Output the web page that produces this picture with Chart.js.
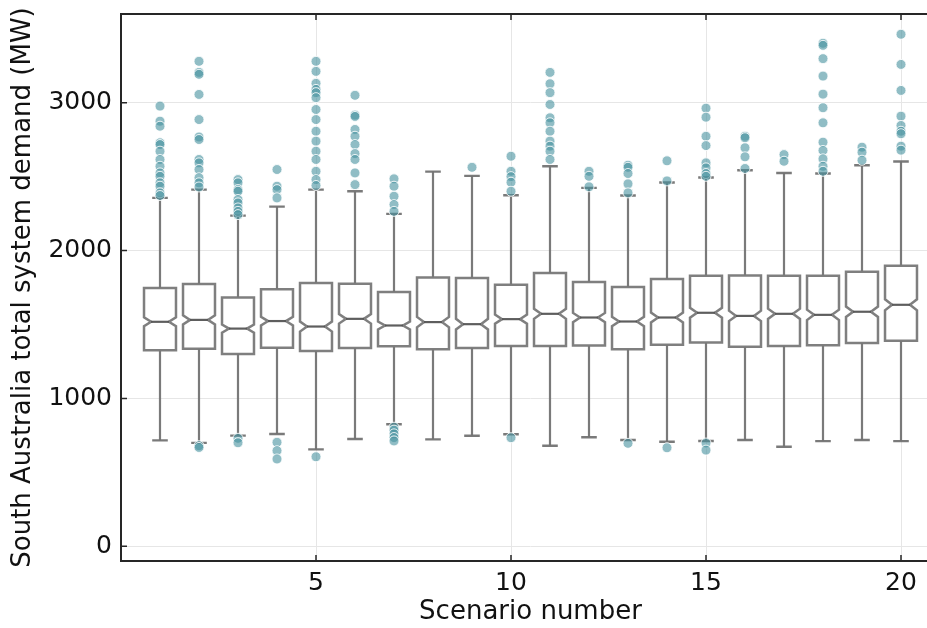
<!DOCTYPE html>
<html>
<head>
<meta charset="utf-8">
<script src="https://cdn.jsdelivr.net/npm/chart.js@4/dist/chart.umd.min.js"></script>
<style>
  html, body { margin: 0; padding: 0; overflow: hidden; background: #fff; }
  #wrap { width: 927px; height: 628px; overflow: hidden; }
  canvas { display: block; }
</style>
</head>
<body>
<div id="wrap"><canvas id="c" width="950" height="628"></canvas></div>
<script>
// ---- Data ----
const scenarios = [1, 2, 3, 4, 5, 6, 7, 8, 9, 10, 11, 12, 13, 14, 15, 16, 17, 18, 19, 20];
const q1 = [1326, 1335, 1301, 1342, 1321, 1340, 1353, 1333, 1340, 1355, 1355, 1357, 1333, 1362, 1378, 1350, 1355, 1360, 1374, 1389];
const medians = [1518, 1531, 1472, 1523, 1486, 1538, 1493, 1516, 1502, 1536, 1572, 1547, 1520, 1547, 1579, 1558, 1572, 1565, 1586, 1633];
const q3 = [1746, 1773, 1682, 1739, 1780, 1775, 1719, 1818, 1814, 1769, 1848, 1787, 1753, 1808, 1830, 1832, 1830, 1830, 1857, 1897];
const whiskerLow = [716, 699, 748, 759, 655, 725, 825, 723, 747, 757, 680, 737, 718, 707, 712, 718, 673, 711, 718, 711];
const whiskerHigh = [2356, 2412, 2236, 2297, 2412, 2401, 2248, 2534, 2505, 2374, 2570, 2424, 2372, 2460, 2494, 2543, 2525, 2521, 2577, 2602];
const notchHalf = [30, 31, 28, 29, 34, 32, 27, 35, 36, 31, 34, 31, 31, 33, 33, 35, 35, 35, 35, 37];
const outliers = [
  [2977, 2875, 2841, 2729, 2717, 2672, 2616, 2570, 2525, 2502, 2458, 2435, 2390, 2372],
  [3280, 3205, 3192, 3056, 2886, 2768, 2751, 2616, 2593, 2548, 2492, 2458, 2430, 680, 668],
  [2480, 2458, 2412, 2401, 2345, 2322, 2288, 2265, 2243, 730, 700],
  [2548, 2435, 2412, 2356, 703, 646, 590],
  [3280, 3212, 3131, 3090, 3068, 3034, 2954, 2886, 2807, 2740, 2672, 2616, 2536, 2480, 2440, 605],
  [3050, 2916, 2907, 2819, 2773, 2717, 2656, 2616, 2525, 2446],
  [2485, 2435, 2367, 2311, 2265, 805, 785, 760, 735, 712],
  [],
  [2563],
  [2638, 2536, 2500, 2462, 2401, 734],
  [3205, 3128, 3068, 2988, 2898, 2864, 2807, 2740, 2706, 2672, 2616],
  [2536, 2502, 2431],
  [2577, 2563, 2521, 2451, 2390, 696],
  [2607, 2471, 666],
  [2963, 2902, 2773, 2710, 2593, 2559, 2521, 2502, 698, 650],
  [2773, 2763, 2695, 2634, 2555],
  [2649, 2604],
  [3402, 3388, 3298, 3180, 3058, 2966, 2864, 2733, 2677, 2620, 2570, 2536],
  [2699, 2665, 2611],
  [3463, 3259, 3083, 2909, 2846, 2807, 2790, 2706, 2679]
];
const xTickValues = [5, 10, 15, 20];
const yTickValues = [0, 1000, 2000, 3000];

// ---- Style constants ----
const BOX_HALF = 0.41;    // half box width, x units
const CAP_HALF = 0.2;     // half cap width, x units
const NOTCH_INSET = 0.22; // fraction of box width
const FONT = 'DejaVu Sans';

const outlierPoints = [];
scenarios.forEach((s, i) => outliers[i].forEach(v => outlierPoints.push({ x: s, y: v })));

const boxPlugin = {
  id: 'boxes',
  beforeDatasetsDraw(chart) {
    const { ctx, scales: { x, y } } = chart;
    ctx.save();
    ctx.lineJoin = 'miter';
    scenarios.forEach((s, i) => {
      const cx = x.getPixelForValue(s);
      const hw = x.getPixelForValue(s + BOX_HALF) - cx;
      const chw = x.getPixelForValue(s + CAP_HALF) - cx;
      const xl = cx - hw, xr = cx + hw;
      const inset = 2 * hw * NOTCH_INSET;
      const yq1 = y.getPixelForValue(q1[i]);
      const yq3 = y.getPixelForValue(q3[i]);
      const ym = y.getPixelForValue(medians[i]);
      const ynl = y.getPixelForValue(medians[i] - notchHalf[i]);
      const ynh = y.getPixelForValue(medians[i] + notchHalf[i]);
      const ywl = y.getPixelForValue(whiskerLow[i]);
      const ywh = y.getPixelForValue(whiskerHigh[i]);
      ctx.strokeStyle = 'rgba(115,115,115,0.95)';
      ctx.lineWidth = 2.2;
      ctx.beginPath();
      ctx.moveTo(cx, yq3); ctx.lineTo(cx, ywh);
      ctx.moveTo(cx, yq1); ctx.lineTo(cx, ywl);
      ctx.stroke();
      ctx.lineWidth = 2.4;
      ctx.beginPath();
      ctx.moveTo(cx - chw, ywh); ctx.lineTo(cx + chw, ywh);
      ctx.moveTo(cx - chw, ywl); ctx.lineTo(cx + chw, ywl);
      ctx.stroke();
      ctx.beginPath();
      ctx.moveTo(xl, yq1);
      ctx.lineTo(xr, yq1);
      ctx.lineTo(xr, ynl);
      ctx.lineTo(xr - inset, ym);
      ctx.lineTo(xr, ynh);
      ctx.lineTo(xr, yq3);
      ctx.lineTo(xl, yq3);
      ctx.lineTo(xl, ynh);
      ctx.lineTo(xl + inset, ym);
      ctx.lineTo(xl, ynl);
      ctx.closePath();
      ctx.fillStyle = '#ffffff';
      ctx.fill();
      ctx.strokeStyle = 'rgba(120,120,120,0.95)';
      ctx.lineWidth = 2.5;
      ctx.stroke();
      ctx.strokeStyle = 'rgba(85,85,85,0.95)';
      ctx.lineWidth = 2.2;
      ctx.beginPath();
      ctx.moveTo(xl + inset, ym); ctx.lineTo(xr - inset, ym);
      ctx.stroke();
    });
    ctx.restore();
  },
  afterDraw(chart) {
    const { ctx, chartArea: a, scales: { x, y } } = chart;
    ctx.save();
    ctx.strokeStyle = '#262626';
    ctx.lineWidth = 2;
    ctx.beginPath();
    ctx.moveTo(a.left, a.bottom); ctx.lineTo(a.left, a.top);
    ctx.moveTo(a.left - 1, a.top); ctx.lineTo(a.right, a.top);
    ctx.moveTo(a.left - 1, a.bottom); ctx.lineTo(a.right, a.bottom);
    ctx.moveTo(a.right, a.top); ctx.lineTo(a.right, a.bottom);
    ctx.stroke();
    ctx.lineWidth = 1.5;
    ctx.beginPath();
    xTickValues.forEach(v => {
      const px = x.getPixelForValue(v);
      ctx.moveTo(px, a.bottom); ctx.lineTo(px, a.bottom - 6);
      ctx.moveTo(px, a.top); ctx.lineTo(px, a.top + 6);
    });
    yTickValues.forEach(v => {
      const py = y.getPixelForValue(v);
      ctx.moveTo(a.left, py); ctx.lineTo(a.left + 6, py);
      ctx.moveTo(a.right, py); ctx.lineTo(a.right - 6, py);
    });
    ctx.stroke();
    ctx.restore();
  }
};

new Chart(document.getElementById('c'), {
  type: 'scatter',
  data: {
    datasets: [{
      label: 'Outliers',
      data: outlierPoints,
      backgroundColor: 'rgba(70,145,158,0.6)',
      borderColor: 'rgba(255,255,255,0.85)',
      borderWidth: 1,
      pointRadius: 5,
      pointHoverRadius: 5
    }]
  },
  options: {
    responsive: false,
    animation: false,
    devicePixelRatio: 1,
    layout: { padding: { top: 14, right: 10, left: 0, bottom: 0 } },
    plugins: { legend: { display: false }, tooltip: { enabled: false } },
    scales: {
      x: {
        type: 'linear', min: 0, max: 21,
        afterBuildTicks: s => { s.ticks = xTickValues.map(v => ({ value: v })); },
        afterFit: s => { s.height = 67; s.paddingLeft = 0; s.paddingRight = 0; },
        grid: { color: '#e6e6e6', lineWidth: 1, drawTicks: false },
        border: { display: false },
        ticks: { font: { family: FONT, size: 25 }, color: '#111', padding: 7, maxRotation: 0, autoSkip: false, callback: v => String(v) },
        title: { display: true, text: 'Scenario number', font: { family: FONT, size: 26 }, color: '#111', padding: { top: 0, bottom: 0 } }
      },
      y: {
        type: 'linear', min: -100, max: 3600,
        afterBuildTicks: s => { s.ticks = yTickValues.map(v => ({ value: v })); },
        afterFit: s => { s.width = 121; s.paddingTop = 0; s.paddingBottom = 0; },
        grid: { color: '#e6e6e6', lineWidth: 1, drawTicks: false },
        border: { display: false },
        ticks: { font: { family: FONT, size: 25 }, color: '#111', padding: 9, autoSkip: false, callback: v => String(v) },
        title: { display: true, text: 'South Australia total system demand (MW)', font: { family: FONT, size: 26 }, color: '#111', padding: { top: 8, bottom: 0 } }
      }
    }
  },
  plugins: [boxPlugin]
});
</script>
</body>
</html>
